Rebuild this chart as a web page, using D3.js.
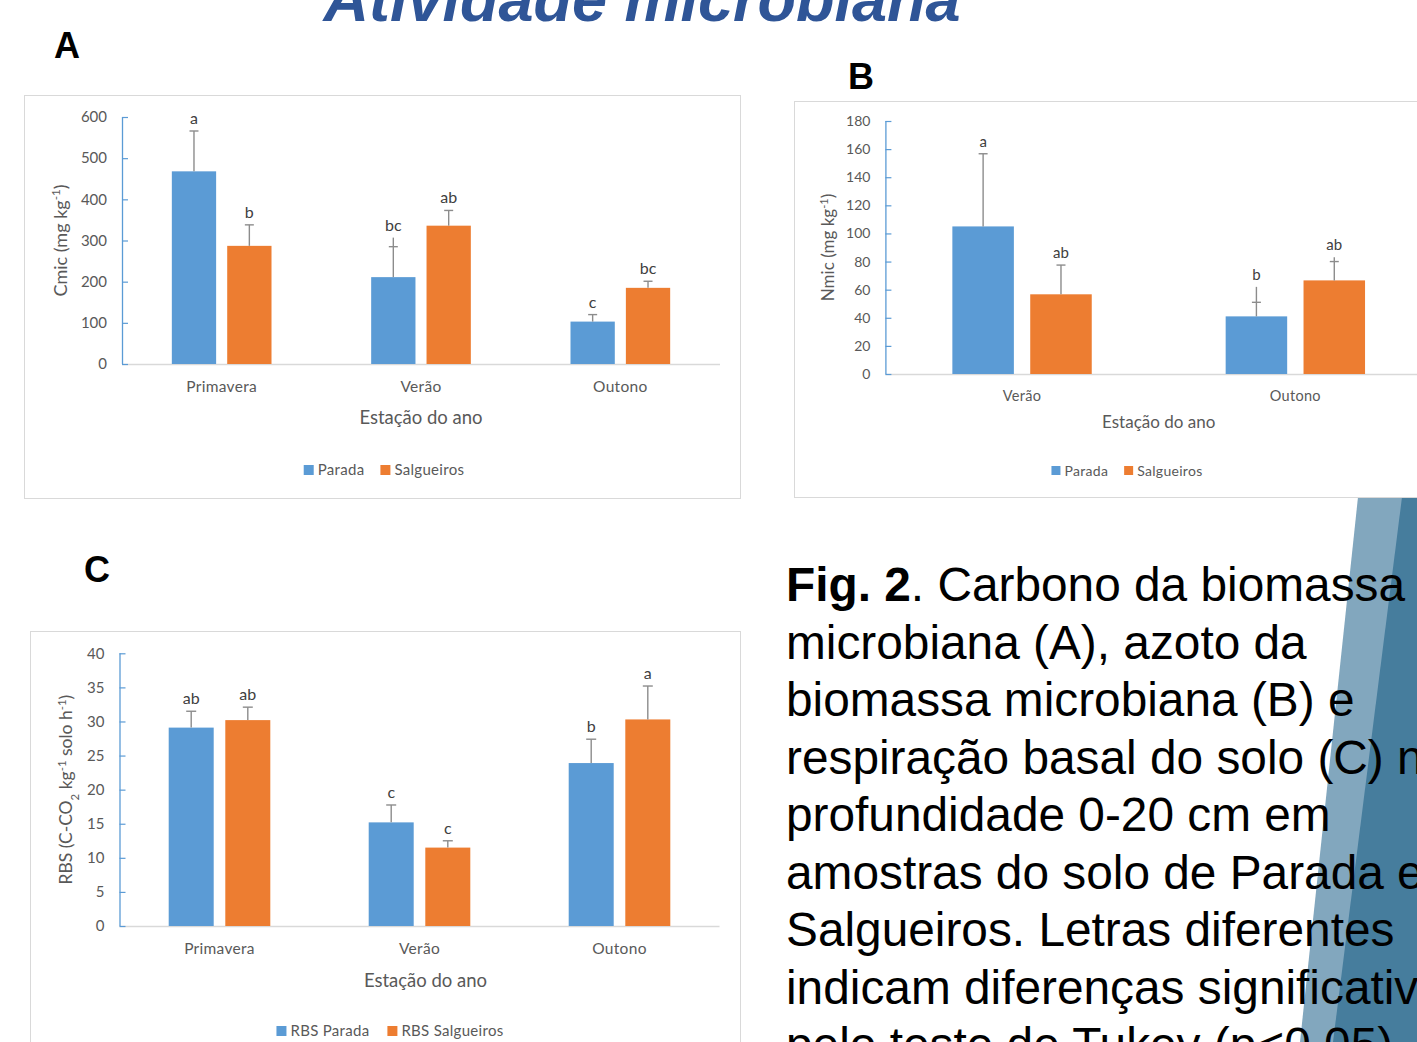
<!DOCTYPE html>
<html><head><meta charset="utf-8">
<script src="https://cdn.jsdelivr.net/npm/d3@7"></script>
<style>
html,body{margin:0;padding:0;background:#fff;overflow:hidden;}
svg{display:block;}
</style></head>
<body>
<script>
// ---------------- DATA ----------------
// Chart A – Cmic (mg kg-1)
const seasonsA = ["Primavera", "Verão", "Outono"];
const paradaA = [468, 211, 103];
const salgueirosA = [287, 336, 185];
const paradaCapA = [566, 285, 120];
const salgueirosCapA = [338, 373, 201];
const paradaWhiskerA = [566, 307, 120];
const salgueirosWhiskerA = [338, 373, 201];
const paradaLettersA = ["a", "bc", "c"];
const salgueirosLettersA = ["b", "ab", "bc"];
const ticksA = [0, 100, 200, 300, 400, 500, 600];

// Chart B – Nmic (mg kg-1)
const seasonsB = ["Verão", "Outono"];
const paradaB = [105, 41];
const salgueirosB = [56.7, 66.6];
const paradaCapB = [156.7, 51];
const salgueirosCapB = [77.5, 80];
const paradaWhiskerB = [156.7, 62];
const salgueirosWhiskerB = [77.5, 83];
const paradaLettersB = ["a", "b"];
const salgueirosLettersB = ["ab", "ab"];
const ticksB = [0, 20, 40, 60, 80, 100, 120, 140, 160, 180];

// Chart C – RBS (C-CO2 kg-1 solo h-1)
const seasonsC = ["Primavera", "Verão", "Outono"];
const paradaC = [29.1, 15.2, 23.9];
const salgueirosC = [30.2, 11.5, 30.3];
const paradaCapC = [31.5, 17.75, 27.4];
const salgueirosCapC = [32.1, 12.5, 35.2];
const paradaWhiskerC = [31.5, 17.75, 27.4];
const salgueirosWhiskerC = [32.1, 12.5, 35.2];
const paradaLettersC = ["ab", "c", "b"];
const salgueirosLettersC = ["ab", "c", "a"];
const ticksC = [0, 5, 10, 15, 20, 25, 30, 35, 40];

const seriesNamesAB = ["Parada", "Salgueiros"];
const seriesNamesC = ["RBS Parada", "RBS Salgueiros"];
const xTitle = "Estação do ano";

const captionLines = [
  [["Fig. 2", true], [". Carbono da biomassa", false]],
  [["microbiana (A), azoto da", false]],
  [["biomassa microbiana (B) e", false]],
  [["respiração basal do solo (C) na", false]],
  [["profundidade 0-20 cm em", false]],
  [["amostras do solo de Parada e", false]],
  [["Salgueiros. Letras diferentes", false]],
  [["indicam diferenças significativas", false]],
  [["pelo teste de Tukey (p<0,05).", false]]
];

// ---------------- DRAW ----------------
const BLUE = "#5B9BD5", ORANGE = "#ED7D31", TXT = "#595959", FONT = "Lato, 'Open Sans', sans-serif";
const svg = d3.select("body").append("svg").attr("width", 1417).attr("height", 1042);

// decorative stripes (behind caption)
svg.append("polygon").attr("points", "1358,497 1417,497 1417,1042 1300,1042").attr("fill", "#82A7BE");
svg.append("polygon").attr("points", "1402,497 1417,497 1417,1042 1333,1042").attr("fill", "#467D9D");

// Title
svg.append("text").attr("x", 642).attr("y", 21).attr("text-anchor", "middle")
  .attr("font-family", "'Liberation Sans', Arial, sans-serif").attr("font-weight", "bold").attr("font-style", "italic")
  .attr("font-size", 63).attr("fill", "#2F5597").text("Atividade microbiana");

// panel letters
[["A", 54, 58], ["B", 848, 89], ["C", 84, 582]].forEach(([t, x, y]) => {
  svg.append("text").attr("x", x).attr("y", y).attr("font-family", "'Liberation Sans', Arial, sans-serif")
    .attr("font-weight", "bold").attr("font-size", 36).attr("fill", "#000").text(t);
});

function drawChart(o) {
  const g = svg.append("g");
  g.append("rect").attr("x", o.frame[0] + 0.5).attr("y", o.frame[1] + 0.5).attr("width", o.frame[2]).attr("height", o.frame[3])
    .attr("fill", "#fff").attr("stroke", "#d9d9d9").attr("stroke-width", 1);

  const x = d3.scaleBand().domain(o.cats).range([o.x0, o.x1]).paddingInner(0).paddingOuter(0);
  const xs = d3.scaleBand().domain([0, 1]).range([x.bandwidth() * o.outer, x.bandwidth() * (1 - o.outer)]).paddingInner(o.inner);
  const y = d3.scaleLinear().domain([0, o.yMax]).range([o.yZero, o.yTop]);

  // x axis line
  g.append("line").attr("x1", o.x0).attr("x2", o.x1).attr("y1", o.yZero + 0.5).attr("y2", o.yZero + 0.5)
    .attr("stroke", "#d9d9d9").attr("stroke-width", 1.3);

  // y axis
  const ya = d3.axisLeft(y).tickValues(o.ticks).tickSize(-6).tickPadding(o.tickPad).tickFormat(d3.format("d"));
  const yg = g.append("g").attr("transform", `translate(${o.x0},0)`).call(ya);
  yg.select(".domain").attr("stroke", BLUE).attr("stroke-width", 1.3).attr("d", `M0.5,${o.yTop}V${o.yZero}`);
  yg.selectAll(".tick line").attr("stroke", BLUE).attr("stroke-width", 1.2);
  yg.selectAll(".tick text").attr("fill", TXT).attr("font-family", FONT).attr("font-size", o.tickFs);

  const series = o.series;
  series.forEach((s, si) => {
    const gg = g.append("g");
    o.cats.forEach((c, i) => {
      const bx = x(c) + xs(si), bw = xs.bandwidth(), cx = bx + bw / 2;
      gg.append("rect").attr("x", bx).attr("y", y(s.values[i])).attr("width", bw)
        .attr("height", y(0) - y(s.values[i])).attr("fill", s.color);
      const wy = y(s.whisker[i]), cy = y(s.cap[i]);
      gg.append("line").attr("x1", cx).attr("x2", cx).attr("y1", y(s.values[i])).attr("y2", wy)
        .attr("stroke", "#8c8c8c").attr("stroke-width", 1.4);
      gg.append("line").attr("x1", cx - o.capW / 2).attr("x2", cx + o.capW / 2).attr("y1", cy).attr("y2", cy)
        .attr("stroke", "#8c8c8c").attr("stroke-width", 1.4);
      gg.append("text").attr("x", cx).attr("y", Math.min(wy, cy) - 7).attr("text-anchor", "middle")
        .attr("font-family", FONT).attr("font-size", o.letterFs).attr("fill", "#404040").text(s.letters[i]);
    });
  });

  // category labels
  o.cats.forEach(c => {
    g.append("text").attr("x", x(c) + x.bandwidth() / 2).attr("y", o.catY).attr("text-anchor", "middle")
      .attr("font-family", FONT).attr("font-size", o.catFs).attr("fill", TXT).attr("letter-spacing", 0.3).text(c);
  });
  // x title
  g.append("text").attr("x", (o.x0 + o.x1) / 2 + o.titleDx).attr("y", o.titleY).attr("text-anchor", "middle")
    .attr("font-family", FONT).attr("font-size", o.titleFs).attr("fill", TXT).text(xTitle);

  // y title (rotated)
  const yt = g.append("text").attr("transform", `translate(${o.yTitleX},${(o.yTop + o.yZero) / 2 + o.yTitleDy}) rotate(-90)`)
    .attr("text-anchor", "middle").attr("font-family", FONT).attr("font-size", o.yTitleFs).attr("fill", TXT);
  o.yTitle.forEach(([t, kind]) => {
    const ts = yt.append("tspan").text(t);
    if (kind === "sup") ts.attr("font-size", o.yTitleFs * 0.65).attr("baseline-shift", "super");
    if (kind === "sub") ts.attr("font-size", o.yTitleFs * 0.65).attr("baseline-shift", "sub");
  });

  // legend
  const lg = g.append("g");
  let cur = 0;
  series.forEach((s, si) => {
    lg.append("rect").attr("x", cur).attr("y", -5).attr("width", o.legSq).attr("height", o.legSq).attr("fill", s.color);
    const t = lg.append("text").attr("x", cur + o.legSq + 4).attr("y", 0).attr("dy", "0.35em")
      .attr("font-family", FONT).attr("font-size", o.legFs).attr("fill", TXT).attr("letter-spacing", 0.3).text(s.name);
    cur += o.legSq + 4 + t.node().getComputedTextLength() + o.legGap;
  });
  const total = cur - o.legGap;
  lg.attr("transform", `translate(${o.legCx - total / 2},${o.legY})`);
}

drawChart({
  frame: [24, 95, 716, 403], cats: seasonsA, x0: 122, x1: 720, yZero: 364, yTop: 117, yMax: 600, ticks: ticksA,
  outer: 0.25, inner: 0.2, capW: 9, tickPad: 15, tickFs: 15, letterFs: 16, catFs: 15.5, catY: 392, titleFs: 18.5, titleY: 424, titleDx: 0,
  yTitle: [["Cmic (mg kg", ""], ["-1", "sup"], [")", ""]], yTitleX: 67, yTitleDy: 0, yTitleFs: 18,
  legSq: 10, legFs: 15, legGap: 16, legCx: 384, legY: 470,
  series: [
    { name: seriesNamesAB[0], color: BLUE, values: paradaA, cap: paradaCapA, whisker: paradaWhiskerA, letters: paradaLettersA },
    { name: seriesNamesAB[1], color: ORANGE, values: salgueirosA, cap: salgueirosCapA, whisker: salgueirosWhiskerA, letters: salgueirosLettersA }
  ]
});

drawChart({
  frame: [794, 101, 700, 396], cats: seasonsB, x0: 885.4, x1: 1432, yZero: 374, yTop: 121, yMax: 180, ticks: ticksB,
  outer: 0.245, inner: 0.21, capW: 9, tickPad: 15, tickFs: 14, letterFs: 15, catFs: 14.5, catY: 401, titleFs: 17, titleY: 428, titleDx: 0,
  yTitle: [["Nmic (mg kg", ""], ["-1", "sup"], [")", ""]], yTitleX: 834, yTitleDy: 0, yTitleFs: 17,
  legSq: 9, legFs: 14, legGap: 16, legCx: 1127, legY: 471,
  series: [
    { name: seriesNamesAB[0], color: BLUE, values: paradaB, cap: paradaCapB, whisker: paradaWhiskerB, letters: paradaLettersB },
    { name: seriesNamesAB[1], color: ORANGE, values: salgueirosB, cap: salgueirosCapB, whisker: salgueirosWhiskerB, letters: salgueirosLettersB }
  ]
});

drawChart({
  frame: [30, 631, 710, 500], cats: seasonsC, x0: 119.5, x1: 719.5, yZero: 926, yTop: 653.3, yMax: 40, ticks: ticksC,
  outer: 0.246, inner: 0.205, capW: 10, tickPad: 15, tickFs: 15, letterFs: 16, catFs: 15.5, catY: 954, titleFs: 18.5, titleY: 987, titleDx: 6,
  yTitle: [["RBS (C-CO", ""], ["2", "sub"], [" kg", ""], ["-1", "sup"], [" solo h", ""], ["-1", "sup"], [")", ""]],
  yTitleX: 72, yTitleDy: 0, yTitleFs: 17.5,
  legSq: 10, legFs: 15, legGap: 18, legCx: 390, legY: 1031,
  series: [
    { name: seriesNamesC[0], color: BLUE, values: paradaC, cap: paradaCapC, whisker: paradaWhiskerC, letters: paradaLettersC },
    { name: seriesNamesC[1], color: ORANGE, values: salgueirosC, cap: salgueirosCapC, whisker: salgueirosWhiskerC, letters: salgueirosLettersC }
  ]
});

// Caption
const cap = svg.append("text").attr("font-family", "'Liberation Sans', Arial, sans-serif").attr("font-size", 47.8).attr("fill", "#000");
captionLines.forEach((parts, i) => {
  const line = cap.append("tspan").attr("x", 786).attr("y", 601 + i * 57.5);
  parts.forEach(([t, b], j) => {
    const ts = j === 0 ? line.text(t) : cap.append("tspan").text(t);
    if (j === 0) { if (b) line.attr("font-weight", "bold"); }
    else if (b) ts.attr("font-weight", "bold");
  });
});
</script>
</body></html>
